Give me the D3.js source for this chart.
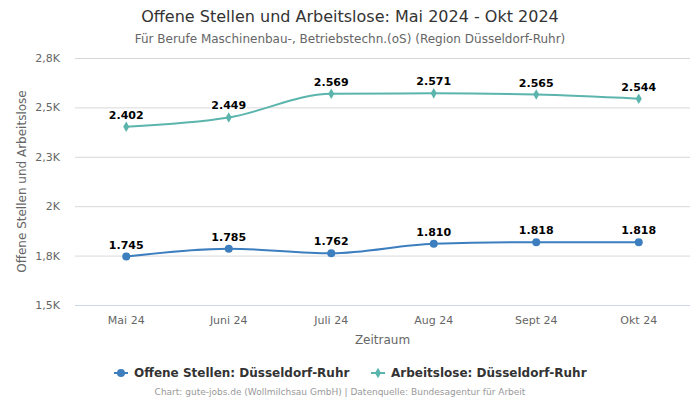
<!DOCTYPE html>
<html><head><meta charset="utf-8">
<script src="https://cdn.jsdelivr.net/npm/d3@7"></script>
<style>body{margin:0;background:#fff}svg{display:block;font-family:"DejaVu Sans",sans-serif}</style>
</head><body><svg id="c" width="700" height="400"></svg>
<script>
const categories = ["Mai 24","Juni 24","Juli 24","Aug 24","Sept 24","Okt 24"];
const offeneStellen = [1745,1785,1762,1810,1818,1818];
const arbeitslose = [2402,2449,2569,2571,2565,2544];
const yTicks = [1500,1750,2000,2250,2500,2750];
const seriesNames = ["Offene Stellen: Düsseldorf-Ruhr","Arbeitslose: Düsseldorf-Ruhr"];

const svg = d3.select("#c");
const m = {l:75, r:690, t:58, b:305};
const x = d3.scaleBand().domain(categories).range([m.l, m.r]);
const y = d3.scaleLinear().domain([1500,2750]).range([m.b, m.t]);
const fmtK = v => { const k = v/1000; const r = Math.round(k*10)/10; return (r%1===0? String(r) : r.toFixed(1).replace(".",",")) + "K"; };
const fmtN = v => d3.format(",")(v).replace(",",".");

svg.append("text").attr("x",350).attr("y",22).attr("text-anchor","middle").attr("font-size",16).attr("fill","#333").text("Offene Stellen und Arbeitslose: Mai 2024 - Okt 2024");
svg.append("text").attr("x",350).attr("y",43).attr("text-anchor","middle").attr("font-size",12).attr("fill","#666").text("Für Berufe Maschinenbau-, Betriebstechn.(oS) (Region Düsseldorf-Ruhr)");

// grid
const g = svg.append("g");
g.selectAll("line.grid").data(yTicks).join("line")
  .attr("x1",m.l).attr("x2",m.r).attr("y1",d=>y(d)+0.5).attr("y2",d=>y(d)+0.5)
  .attr("stroke",(d,i)=> i===0 ? "#ccd6eb" : "#d8d8d8").attr("stroke-width",1);
g.selectAll("text.yt").data(yTicks).join("text")
  .attr("x",m.l-15).attr("y",d=>y(d)+4).attr("text-anchor","end").attr("font-size",11).attr("fill","#666").text(fmtK);

svg.append("text").attr("transform",`translate(26,${(m.t+m.b)/2}) rotate(-90)`).attr("text-anchor","middle").attr("font-size",12).attr("fill","#666").text("Offene Stellen und Arbeitslose");

svg.selectAll("text.xt").data(categories).join("text")
  .attr("x",d=>x(d)+x.bandwidth()/2).attr("y",324).attr("text-anchor","middle").attr("font-size",11).attr("fill","#666").text(d=>d);
svg.append("text").attr("x",(m.l+m.r)/2).attr("y",344).attr("text-anchor","middle").attr("font-size",12).attr("fill","#666").text("Zeitraum");

const cx = (d,i)=> x(categories[i]) + x.bandwidth()/2;
const line = d3.line().x(cx).y(d=>y(d)).curve(d3.curveMonotoneX);
const colors = ["#3d7ebf","#5bb5ad"];
const datasets = [offeneStellen, arbeitslose];
datasets.forEach((data,s)=>{
  svg.append("path").attr("d",line(data)).attr("fill","none").attr("stroke",colors[s]).attr("stroke-width",2);
  const sym = s===0 ? d3.symbol().type(d3.symbolCircle).size(50) : d3.symbol().type(d3.symbolDiamond).size(32);
  svg.selectAll("path.m"+s).data(data).join("path")
    .attr("transform",(d,i)=>`translate(${cx(d,i)},${y(d)})`).attr("d",sym).attr("fill",colors[s]);
  svg.selectAll("text.l"+s).data(data).join("text")
    .attr("x",(d,i)=>cx(d,i)).attr("y",d=>y(d)-8).attr("text-anchor","middle").attr("font-size",11).attr("font-weight","bold")
    .attr("fill","#000").attr("stroke","#fff").attr("stroke-width",3).attr("paint-order","stroke").attr("stroke-linejoin","round").text(fmtN);
});

// legend
const leg = svg.append("g");
const legItems = [{x:114, n:seriesNames[0], c:colors[0], t:d3.symbolCircle, sz:50},{x:371, n:seriesNames[1], c:colors[1], t:d3.symbolDiamond, sz:32}];
legItems.forEach(it=>{
  leg.append("line").attr("x1",it.x).attr("x2",it.x+14).attr("y1",373).attr("y2",373).attr("stroke",it.c).attr("stroke-width",2);
  leg.append("path").attr("transform",`translate(${it.x+7},373)`).attr("d",d3.symbol().type(it.t).size(it.sz)).attr("fill",it.c);
  leg.append("text").attr("x",it.x+20).attr("y",377).attr("font-size",12).attr("font-weight","bold").attr("fill","#333").text(it.n);
});
svg.append("text").attr("x",340).attr("y",395).attr("text-anchor","middle").attr("font-size",9).attr("fill","#999").text("Chart: gute-jobs.de (Wollmilchsau GmbH) | Datenquelle: Bundesagentur für Arbeit");
</script></body></html>
